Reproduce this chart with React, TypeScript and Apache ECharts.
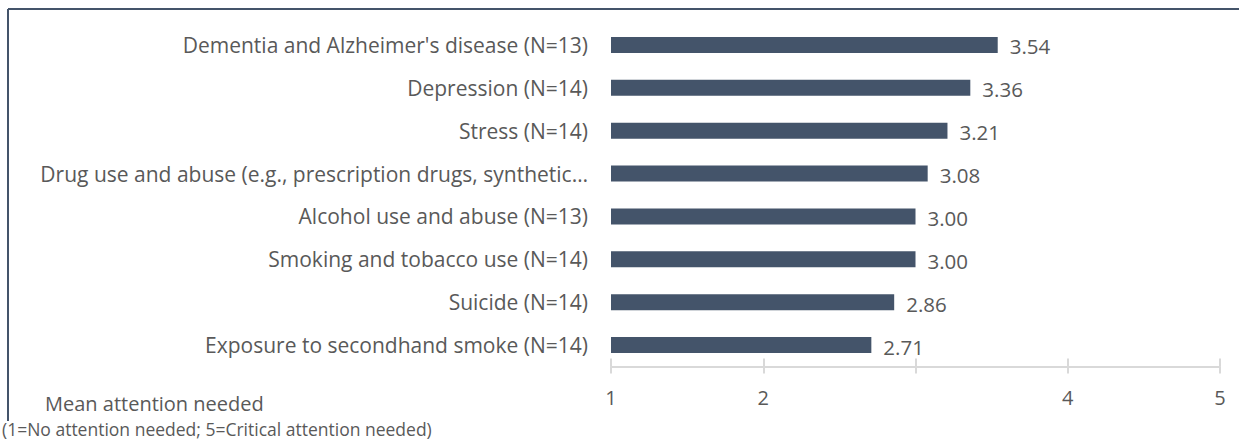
import React, { useEffect, useRef } from "react";
import * as echarts from "echarts";

const categories = [
  "Dementia and Alzheimer's disease (N=13)",
  "Depression (N=14)",
  "Stress (N=14)",
  "Drug use and abuse (e.g., prescription drugs, synthetic…",
  "Alcohol use and abuse (N=13)",
  "Smoking and tobacco use (N=14)",
  "Suicide (N=14)",
  "Exposure to secondhand smoke (N=14)",
];
const values = [3.54, 3.36, 3.21, 3.08, 3.0, 3.0, 2.86, 2.71];
const tickLabels: Record<number, string> = { 1: "1", 2: "2", 3: "", 4: "4", 5: "5" };

const FONT = "Open Sans";
const TEXT = "#595959";

export default function App() {
  const ref = useRef<HTMLDivElement>(null);
  useEffect(() => {
    if (!ref.current) return;
    const chart = echarts.init(ref.current, undefined, { renderer: "svg" });
    const gridBox = { left: 611, right: 19, top: 23.5, height: 343 };
    chart.setOption({
      animation: false,
      backgroundColor: "#ffffff",
      textStyle: { fontFamily: FONT },
      grid: [
        { ...gridBox, containLabel: false },
        { ...gridBox, containLabel: false },
      ],
      xAxis: [
        {
          type: "value",
          gridIndex: 0,
          min: 1,
          max: 5,
          interval: 1,
          axisLine: { show: true, lineStyle: { color: "#d9d9d9", width: 2 } },
          axisTick: { show: true, length: 7, lineStyle: { color: "#d9d9d9", width: 2 } },
          splitLine: { show: false },
          axisLabel: {
            color: TEXT,
            fontSize: 20,
            fontFamily: FONT,
            margin: 21,
            formatter: (v: number) => tickLabels[v] ?? "",
          },
        },
        {
          type: "value",
          gridIndex: 1,
          min: 1,
          max: 5,
          interval: 1,
          axisLine: { show: false },
          axisTick: { show: true, inside: true, length: 8, lineStyle: { color: "#d9d9d9", width: 2 } },
          splitLine: { show: false },
          axisLabel: { show: false },
        },
      ],
      yAxis: [
        {
          type: "category",
          gridIndex: 0,
          data: categories,
          inverse: true,
          axisLine: { show: false },
          axisTick: { show: false },
          axisLabel: { color: TEXT, fontSize: 21, fontFamily: FONT, margin: 23 },
        },
        {
          type: "category",
          gridIndex: 1,
          data: categories,
          inverse: true,
          show: false,
        },
      ],
      series: [
        {
          type: "bar",
          xAxisIndex: 0,
          yAxisIndex: 0,
          data: values,
          barWidth: 16,
          itemStyle: { color: "#44546a" },
          label: {
            show: true,
            position: "right",
            distance: 12,
            offset: [0, 1.5],
            color: TEXT,
            fontSize: 20.5,
            fontFamily: FONT,
            formatter: (p: any) => Number(p.value).toFixed(2),
          },
        },
      ],
      graphic: [
        {
          type: "line",
          shape: { x1: 8, y1: 9, x2: 1239, y2: 9 },
          style: { stroke: "#44546a", lineWidth: 2 },
        },
        {
          type: "line",
          shape: { x1: 8, y1: 9, x2: 8, y2: 421 },
          style: { stroke: "#44546a", lineWidth: 2 },
        },
        {
          type: "text",
          x: 45,
          y: 403,
          style: {
            text: "Mean attention needed",
            fill: TEXT,
            fontSize: 20,
            lineHeight: 20,
            fontFamily: FONT,
            verticalAlign: "middle",
          },
        },
        {
          type: "text",
          x: 2,
          y: 429,
          style: {
            text: "(1=No attention needed; 5=Critical attention needed)",
            fill: TEXT,
            fontSize: 17.5,
            lineHeight: 17,
            fontFamily: FONT,
            verticalAlign: "middle",
          },
        },
      ],
    });
    return () => chart.dispose();
  }, []);
  return (
    <div
      ref={ref}
      style={{ position: "fixed", left: 0, top: 0, width: 1239, height: 441 }}
    />
  );
}
